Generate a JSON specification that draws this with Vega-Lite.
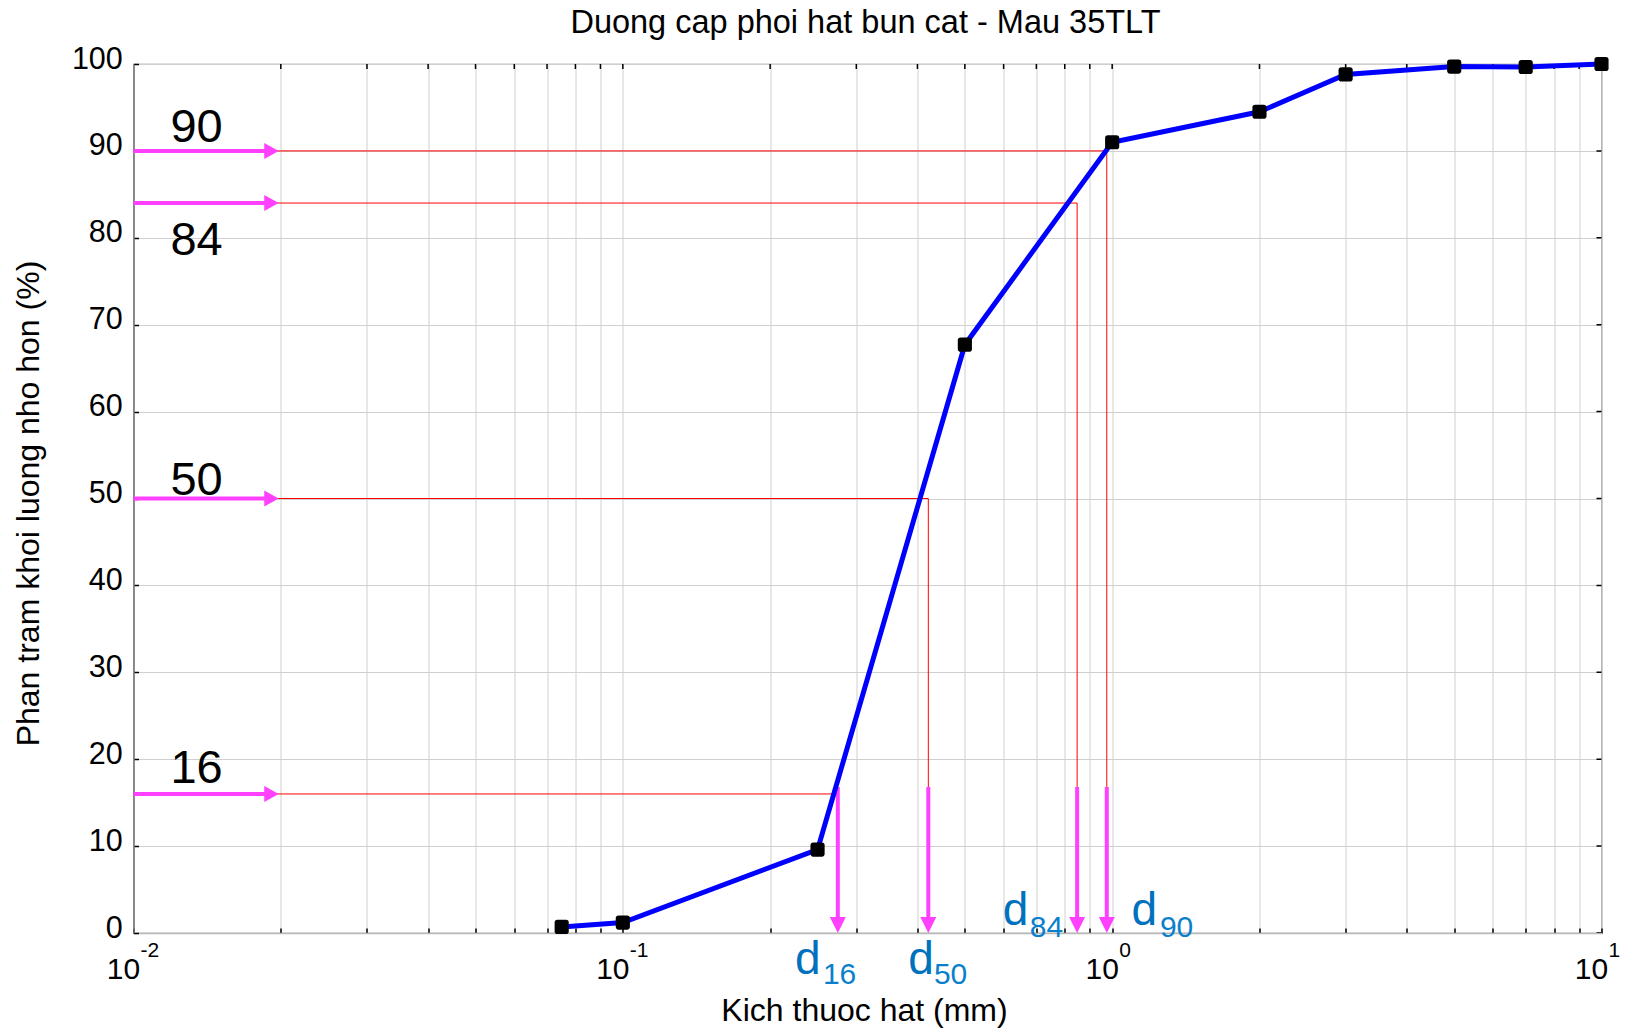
{
  "$schema": "https://vega.github.io/schema/vega-lite/v6.json",
  "autosize": "none",
  "width": 1468,
  "height": 869,
  "padding": {"left": 133.5, "top": 64, "right": 34.5, "bottom": 95},
  "background": "white",
  "config": {
    "view": {"stroke": "#7f7f7f", "strokeWidth": 1.2},
    "axis": {"labelFont": "Liberation Sans", "titleFont": "Liberation Sans"},
    "text": {"font": "Liberation Sans"}
  },
  "title": {
    "text": "Duong cap phoi hat bun cat - Mau 35TLT",
    "font": "Liberation Sans",
    "fontSize": 32.5,
    "fontWeight": "normal",
    "color": "black",
    "anchor": "middle",
    "frame": "group",
    "baseline": "alphabetic",
    "offset": 10,
    "dx": -2,
    "dy": 31
  },
  "datasets": {
    "curve": [
      {"x": 0.075, "y": 0.7},
      {"x": 0.1, "y": 1.2},
      {"x": 0.25, "y": 9.6},
      {"x": 0.5, "y": 67.7},
      {"x": 1, "y": 91},
      {"x": 2, "y": 94.5},
      {"x": 3, "y": 98.8},
      {"x": 5, "y": 99.7},
      {"x": 7, "y": 99.65},
      {"x": 10, "y": 100}
    ],
    "red": [
      {"g": "16", "o": 1, "x": 0.01, "y": 16},
      {"g": "16", "o": 2, "x": 0.275, "y": 16},
      {"g": "50", "o": 1, "x": 0.01, "y": 50},
      {"g": "50", "o": 2, "x": 0.421, "y": 50},
      {"g": "50", "o": 3, "x": 0.421, "y": 16.8},
      {"g": "84", "o": 1, "x": 0.01, "y": 84},
      {"g": "84", "o": 2, "x": 0.848, "y": 84},
      {"g": "84", "o": 3, "x": 0.848, "y": 16.8},
      {"g": "90", "o": 1, "x": 0.01, "y": 90},
      {"g": "90", "o": 2, "x": 0.975, "y": 90},
      {"g": "90", "o": 3, "x": 0.975, "y": 16.8}
    ],
    "shafts": [
      {"g": "h16", "o": 1, "x": 0.01, "y": 16},
      {"g": "h16", "o": 2, "x": 0.019, "y": 16},
      {"g": "h50", "o": 1, "x": 0.01, "y": 50},
      {"g": "h50", "o": 2, "x": 0.019, "y": 50},
      {"g": "h84", "o": 1, "x": 0.01, "y": 84},
      {"g": "h84", "o": 2, "x": 0.019, "y": 84},
      {"g": "h90", "o": 1, "x": 0.01, "y": 90},
      {"g": "h90", "o": 2, "x": 0.019, "y": 90},
      {"g": "v16", "o": 1, "x": 0.275, "y": 16.8},
      {"g": "v16", "o": 2, "x": 0.275, "y": 1},
      {"g": "v50", "o": 1, "x": 0.421, "y": 16.8},
      {"g": "v50", "o": 2, "x": 0.421, "y": 1},
      {"g": "v84", "o": 1, "x": 0.848, "y": 16.8},
      {"g": "v84", "o": 2, "x": 0.848, "y": 1},
      {"g": "v90", "o": 1, "x": 0.975, "y": 16.8},
      {"g": "v90", "o": 2, "x": 0.975, "y": 1}
    ],
    "heads": [
      {"x": 0.0198, "y": 16, "dir": "right"},
      {"x": 0.0198, "y": 50, "dir": "right"},
      {"x": 0.0198, "y": 84, "dir": "right"},
      {"x": 0.0198, "y": 90, "dir": "right"},
      {"x": 0.275, "y": 0, "dir": "down"},
      {"x": 0.421, "y": 0, "dir": "down"},
      {"x": 0.848, "y": 0, "dir": "down"},
      {"x": 0.975, "y": 0, "dir": "down"}
    ],
    "big": [
      {"x": 0.0119, "y": 91.05, "t": "90"},
      {"x": 0.0119, "y": 78.0, "t": "84"},
      {"x": 0.0119, "y": 50.4, "t": "50"},
      {"x": 0.0119, "y": 17.3, "t": "16"}
    ],
    "dmain": [
      {"x": 0.2247, "y": -4.67, "t": "d"},
      {"x": 0.3831, "y": -4.67, "t": "d"},
      {"x": 0.5979, "y": 0.89, "t": "d"},
      {"x": 1.0955, "y": 0.89, "t": "d"}
    ],
    "dsub": [
      {"x": 0.2564, "y": -5.9, "t": "16"},
      {"x": 0.4322, "y": -5.9, "t": "50"},
      {"x": 0.6788, "y": -0.46, "t": "84"},
      {"x": 1.2518, "y": -0.46, "t": "90"}
    ],
    "exps": [
      {"x": 0.01, "y": 0, "t": "-2"},
      {"x": 0.1, "y": 0, "t": "-1"},
      {"x": 1, "y": 0, "t": "0"},
      {"x": 10, "y": 0, "t": "1"}
    ],
    "topticks": [
      {"x": 0.02, "y": 100}, {"x": 0.03, "y": 100}, {"x": 0.04, "y": 100}, {"x": 0.05, "y": 100},
      {"x": 0.06, "y": 100}, {"x": 0.07, "y": 100}, {"x": 0.08, "y": 100}, {"x": 0.09, "y": 100},
      {"x": 0.1, "y": 100}, {"x": 0.2, "y": 100}, {"x": 0.3, "y": 100}, {"x": 0.4, "y": 100},
      {"x": 0.5, "y": 100}, {"x": 0.6, "y": 100}, {"x": 0.7, "y": 100}, {"x": 0.8, "y": 100},
      {"x": 0.9, "y": 100}, {"x": 1, "y": 100}, {"x": 2, "y": 100}, {"x": 3, "y": 100},
      {"x": 4, "y": 100}, {"x": 5, "y": 100}, {"x": 6, "y": 100}, {"x": 7, "y": 100},
      {"x": 8, "y": 100}, {"x": 9, "y": 100}
    ],
    "rightticks": [
      {"x": 10, "y": 0}, {"x": 10, "y": 10}, {"x": 10, "y": 20}, {"x": 10, "y": 30},
      {"x": 10, "y": 40}, {"x": 10, "y": 50}, {"x": 10, "y": 60}, {"x": 10, "y": 70},
      {"x": 10, "y": 80}, {"x": 10, "y": 90}, {"x": 10, "y": 100}
    ]
  },
  "encoding": {
    "x": {
      "field": "x",
      "type": "quantitative",
      "scale": {"type": "log", "domain": [0.01, 10], "nice": false},
      "axis": {
        "values": [0.01, 0.02, 0.03, 0.04, 0.05, 0.06, 0.07, 0.08, 0.09, 0.1, 0.2, 0.3, 0.4, 0.5, 0.6, 0.7, 0.8, 0.9, 1, 2, 3, 4, 5, 6, 7, 8, 9, 10],
        "grid": true,
        "gridColor": "#d0d0d0",
        "gridWidth": 1,
        "ticks": true,
        "tickSize": -5,
        "tickColor": "black",
        "tickWidth": 1.5,
        "domainColor": "#b8b8b8",
        "domainWidth": 1.5,
        "labelExpr": "abs(log(datum.value)/LN10 - round(log(datum.value)/LN10)) < 0.001 ? '10' : ''",
        "labelFontSize": 30,
        "labelColor": "black",
        "labelOffset": -10.5,
        "labelBaseline": "alphabetic",
        "labelAlign": "center",
        "labelPadding": 50.6,
        "labelFlush": false,
        "labelOverlap": false,
        "labelBound": false,
        "title": "Kich thuoc hat (mm)",
        "titleFontSize": 32,
        "titleFontWeight": "normal",
        "titleColor": "black",
        "titleX": 730.5,
        "titleY": 87.3,
        "titleAlign": "center",
        "titleBaseline": "alphabetic"
      }
    },
    "y": {
      "field": "y",
      "type": "quantitative",
      "scale": {"domain": [0, 100], "nice": false, "zero": false},
      "axis": {
        "values": [0, 10, 20, 30, 40, 50, 60, 70, 80, 90, 100],
        "grid": true,
        "gridColor": "#d0d0d0",
        "gridWidth": 1,
        "ticks": true,
        "tickSize": -5,
        "tickColor": "black",
        "tickWidth": 1.5,
        "domainColor": "#777777",
        "domainWidth": 1.5,
        "labelFontSize": 30.5,
        "labelColor": "black",
        "labelPadding": 16.2,
        "labelOffset": -5,
        "labelBaseline": "middle",
        "labelAlign": "right",
        "labelFlush": false,
        "labelOverlap": false,
        "labelBound": false,
        "title": "Phan tram khoi luong nho hon (%)",
        "titleFontSize": 32,
        "titleFontWeight": "normal",
        "titleColor": "black",
        "titleAngle": -90,
        "titleX": -95.5,
        "titleY": 439,
        "titleAlign": "center",
        "titleBaseline": "alphabetic"
      }
    }
  },
  "layer": [
    {
      "data": {"name": "topticks"},
      "mark": {"type": "tick", "orient": "vertical", "color": "black", "size": 10, "thickness": 1.5, "clip": true, "opacity": 1}
    },
    {
      "data": {"name": "rightticks"},
      "mark": {"type": "tick", "orient": "horizontal", "color": "black", "size": 10, "thickness": 1.5, "clip": true, "opacity": 1}
    },
    {
      "data": {"name": "red"},
      "mark": {"type": "line", "color": "#ff0000", "strokeWidth": 1},
      "encoding": {"detail": {"field": "g"}, "order": {"field": "o"}}
    },
    {
      "data": {"name": "shafts"},
      "mark": {"type": "line", "color": "#ff40ff", "strokeWidth": 4, "strokeCap": "butt"},
      "encoding": {"detail": {"field": "g"}, "order": {"field": "o"}}
    },
    {
      "data": {"name": "heads"},
      "mark": {"type": "point", "filled": true, "color": "#ff40ff", "opacity": 1, "size": 256},
      "encoding": {
        "shape": {
          "field": "dir",
          "type": "nominal",
          "scale": {"domain": ["right", "down"], "range": ["M -1.8 -1 L 0 0 L -1.8 1 Z", "M -1 -2 L 0 0 L 1 -2 Z"]},
          "legend": null
        }
      }
    },
    {
      "data": {"name": "curve"},
      "mark": {"type": "line", "color": "#0000ff", "strokeWidth": 5}
    },
    {
      "data": {"name": "curve"},
      "mark": {"type": "point", "filled": true, "color": "black", "opacity": 1, "size": 200,
        "shape": "M -0.6 -1 L 0.6 -1 Q 1 -1 1 -0.6 L 1 0.6 Q 1 1 0.6 1 L -0.6 1 Q -1 1 -1 0.6 L -1 -0.6 Q -1 -1 -0.6 -1 Z"}
    },
    {
      "data": {"name": "big"},
      "mark": {"type": "text", "fontSize": 47, "color": "black", "align": "left", "baseline": "alphabetic"},
      "encoding": {"text": {"field": "t"}}
    },
    {
      "data": {"name": "dmain"},
      "mark": {"type": "text", "fontSize": 46, "color": "#0072bd", "align": "left", "baseline": "alphabetic"},
      "encoding": {"text": {"field": "t"}}
    },
    {
      "data": {"name": "dsub"},
      "mark": {"type": "text", "fontSize": 30, "color": "#0a80cc", "align": "left", "baseline": "alphabetic"},
      "encoding": {"text": {"field": "t"}}
    },
    {
      "data": {"name": "exps"},
      "mark": {"type": "text", "fontSize": 21, "color": "black", "align": "left", "baseline": "alphabetic", "dx": 7, "dy": 24},
      "encoding": {"text": {"field": "t"}}
    }
  ]
}
